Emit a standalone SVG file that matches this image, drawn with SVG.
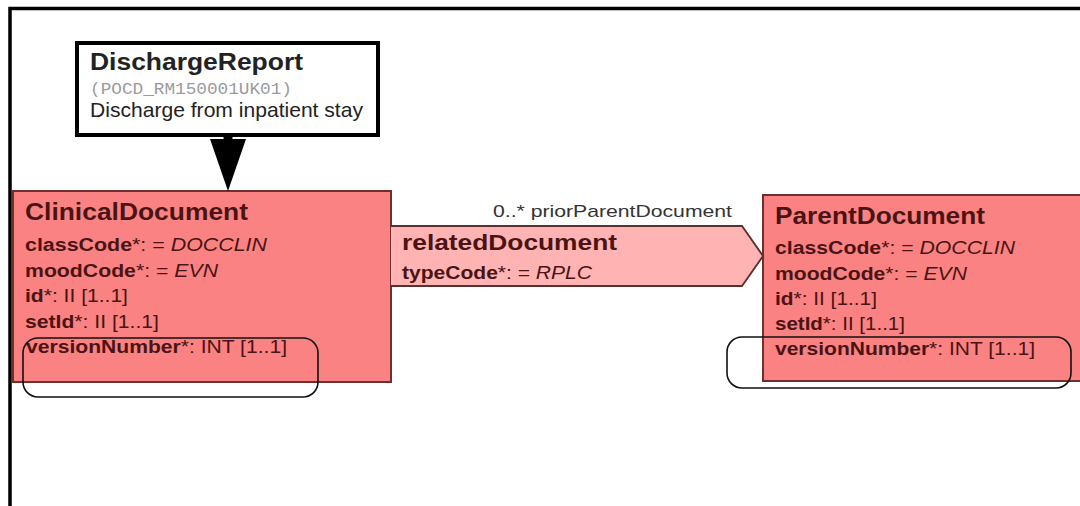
<svg xmlns="http://www.w3.org/2000/svg" width="1080" height="506" viewBox="0 0 1080 506">
<style>
text{font-family:"Liberation Sans",Arial,sans-serif;fill:#4a1414}
.title{font-weight:bold;font-size:23px}
.attr{font-size:18px}
.b{font-weight:bold}
.i{font-style:italic}
.cls{fill:#fb8282;stroke:#6e2f2f;stroke-width:2}
.rel{fill:#ffb3b3;stroke:#5a3030;stroke-width:1.8}
.hl{fill:none;stroke:#111;stroke-width:1.6}
</style>
<defs>
<marker id="tri" markerUnits="userSpaceOnUse" viewBox="0 0 52 36" markerWidth="52" markerHeight="36" refX="0" refY="18" orient="auto">
<path d="M0,0 L52,18 L0,36 z" fill="#000"/>
</marker>
</defs>
<rect width="1080" height="506" fill="#fff"/>
<path d="M10,506 V8.5 H1080" fill="none" stroke="#000" stroke-width="3.5"/>

<g id="DischargeReport">
<rect x="77" y="43" width="301" height="92" fill="#fff" stroke="#000" stroke-width="4"/>
<text x="90" y="70" class="title" style="fill:#222" textLength="213" lengthAdjust="spacingAndGlyphs">DischargeReport</text>
<text x="90" y="94" style="font-family:'Liberation Mono','Courier New',monospace;font-size:17px;fill:#9a9a9a" textLength="202" lengthAdjust="spacingAndGlyphs">(POCD_RM150001UK01)</text>
<text x="90" y="117" style="font-size:21px;fill:#222" textLength="273" lengthAdjust="spacingAndGlyphs">Discharge from inpatient stay</text>
</g>

<g id="ClinicalDocument">
<rect class="cls" x="13" y="191" width="378" height="191"/>
<text x="25" y="220" class="title" textLength="223" lengthAdjust="spacingAndGlyphs">ClinicalDocument</text>
<text x="25" y="251" class="attr" textLength="242" lengthAdjust="spacingAndGlyphs"><tspan class="b">classCode</tspan>*: = <tspan class="i">DOCCLIN</tspan></text>
<text x="25" y="277" class="attr" textLength="193" lengthAdjust="spacingAndGlyphs"><tspan class="b">moodCode</tspan>*: = <tspan class="i">EVN</tspan></text>
<text x="25" y="302" class="attr" textLength="103" lengthAdjust="spacingAndGlyphs"><tspan class="b">id</tspan>*: II [1..1]</text>
<text x="25" y="328" class="attr" textLength="134" lengthAdjust="spacingAndGlyphs"><tspan class="b">setId</tspan>*: II [1..1]</text>
<text x="26" y="353" class="attr" textLength="261" lengthAdjust="spacingAndGlyphs"><tspan class="b">versionNumber</tspan>*: INT [1..1]</text>
</g>

<g id="ParentDocument">
<rect class="cls" x="763" y="195" width="320" height="186"/>
<text x="775" y="224" class="title" textLength="210" lengthAdjust="spacingAndGlyphs">ParentDocument</text>
<text x="775" y="254" class="attr" textLength="240" lengthAdjust="spacingAndGlyphs"><tspan class="b">classCode</tspan>*: = <tspan class="i">DOCCLIN</tspan></text>
<text x="775" y="280" class="attr" textLength="192" lengthAdjust="spacingAndGlyphs"><tspan class="b">moodCode</tspan>*: = <tspan class="i">EVN</tspan></text>
<text x="775" y="305" class="attr" textLength="102" lengthAdjust="spacingAndGlyphs"><tspan class="b">id</tspan>*: II [1..1]</text>
<text x="775" y="330" class="attr" textLength="130" lengthAdjust="spacingAndGlyphs"><tspan class="b">setId</tspan>*: II [1..1]</text>
<text x="775" y="355" class="attr" textLength="260" lengthAdjust="spacingAndGlyphs"><tspan class="b">versionNumber</tspan>*: INT [1..1]</text>
</g>

<g id="connectors">
<line x1="228" y1="133" x2="228" y2="139" stroke="#000" stroke-width="9" marker-end="url(#tri)"/>
<g id="relatedDocument">
<path class="rel" d="M391,226 H742 L763,256 L742,286 H391"/>
<text x="493" y="217" style="font-size:17px;fill:#333" textLength="239" lengthAdjust="spacingAndGlyphs">0..* priorParentDocument</text>
<text x="402" y="250" class="title" style="font-size:22px" textLength="215" lengthAdjust="spacingAndGlyphs">relatedDocument</text>
<text x="402" y="279" class="attr" textLength="190" lengthAdjust="spacingAndGlyphs"><tspan class="b">typeCode</tspan>*: = <tspan class="i">RPLC</tspan></text>
</g>
</g>

<rect class="hl" x="23" y="338" width="295" height="59" rx="15" ry="15"/>
<rect class="hl" x="727" y="337" width="344" height="51" rx="15" ry="15"/>
</svg>
